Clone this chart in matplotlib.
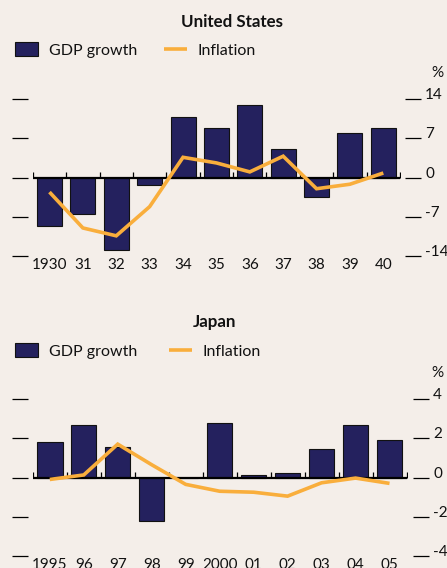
import matplotlib
matplotlib.use("Agg")
import matplotlib.pyplot as plt
import matplotlib.transforms as mtransforms
import numpy as np

# ---- data ----
us_years = ['1930', '31', '32', '33', '34', '35', '36', '37', '38', '39', '40']
us_gdp = [-8.7, -6.5, -13.0, -1.4, 10.8, 8.9, 13.0, 5.1, -3.5, 8.0, 8.8]
us_infl = [-2.6, -9.0, -10.4, -5.2, 3.6, 2.6, 1.0, 3.8, -2.0, -1.2, 0.8]
us_ticks = [-14, -7, 0, 7, 14]

jp_years = ['1995', '96', '97', '98', '99', '2000', '01', '02', '03', '04', '05']
jp_gdp = [1.8, 2.7, 1.55, -2.2, -0.05, 2.8, 0.15, 0.25, 1.45, 2.7, 1.9]
jp_infl = [-0.1, 0.13, 1.7, 0.65, -0.35, -0.7, -0.75, -0.95, -0.27, -0.03, -0.3]
jp_ticks = [-4, -2, 0, 2, 4]

BG = '#f4eee9'
BAR = '#24215e'
LINE = '#f9ae3c'
FONT = 'Lato'
TXT = '#111111'

W, H = 447, 568
fig = plt.figure(figsize=(W / 100, H / 100), dpi=100, facecolor=BG)
plt.rcParams['font.family'] = [FONT, 'DejaVu Sans']


def px(v):
    return v / 100.0  # inches


def panel(rect_px, years, gdp, infl, ticks, title, title_xy, legend_xy, colsp,
          rgap, lbl_off):
    x0, x1, ytop, ybot = rect_px
    ax = fig.add_axes([x0 / W, 1 - ybot / H, (x1 - x0) / W, (ybot - ytop) / H])
    ax.set_facecolor('none')
    n = len(years)
    xs = np.arange(n)
    bars = ax.bar(xs, gdp, width=0.75, color=BAR, edgecolor='#111111',
                  linewidth=0.8, zorder=2)
    line, = ax.plot(xs, infl, color=LINE, lw=2.6, solid_capstyle='butt',
                    solid_joinstyle='miter', zorder=4)
    ax.axhline(0, color='black', lw=1.6, zorder=3)
    bounds = np.arange(n + 1) - 0.5
    ax.plot(bounds, np.zeros_like(bounds), ls='', marker=2, ms=4.5, mew=0.9,
            color='black', zorder=3)
    ax.set_xlim(-0.5, n - 0.5)
    ax.set_ylim(ticks[0], ticks[-1])
    for s in ax.spines.values():
        s.set_visible(False)
    ax.spines['left'].set_position(('outward', 3.6))
    ax.spines['right'].set_position(('outward', rgap * 0.72))
    ax.set_yticks(ticks)
    ax.yaxis.set_ticks_position('both')
    ax.tick_params(axis='y', which='major', direction='out', length=11.5,
                   width=0.9, color='black', labelleft=False, labelright=False)
    ax.set_xticks(xs)
    ax.set_xticklabels(years, fontsize=11, color=TXT)
    ax.tick_params(axis='x', length=0, pad=1.5)
    trans = ax.get_yaxis_transform(which='tick2') + mtransforms.ScaledTranslation(
        px(lbl_off), px(0), fig.dpi_scale_trans)
    for t in ticks:
        ax.text(1, t, str(t), transform=trans, ha='left', va='baseline',
                fontsize=11, color=TXT)
    fig.text(437 / W, 1 - (ytop - 26) / H, '%', ha='center', va='center',
             fontsize=11, color=TXT)
    fig.text(title_xy[0] / W, 1 - title_xy[1] / H, title, ha='center',
             va='center', fontsize=12.2, fontweight='bold', color=TXT)
    ax.legend([bars, line], ['GDP growth', 'Inflation'], loc='center left',
              bbox_to_anchor=(legend_xy[0] / W, 1 - legend_xy[1] / H),
              bbox_transform=fig.transFigure, ncol=2, frameon=False,
              fontsize=11.5, handlelength=1.45, handleheight=1.0,
              handletextpad=0.65, columnspacing=colsp, borderpad=0,
              borderaxespad=0, labelcolor=TXT)
    return ax


panel((32.8, 400, 99, 256), us_years, us_gdp, us_infl, us_ticks,
      'United States', (232, 22), (15, 50), 1.7, 5, 20)
panel((32.8, 406.5, 399, 556), jp_years, jp_gdp, jp_infl, jp_ticks,
      'Japan', (215, 322.5), (15, 351), 2.0, 6.5, 20)

fig.savefig('out.png', dpi=100, facecolor=BG)
